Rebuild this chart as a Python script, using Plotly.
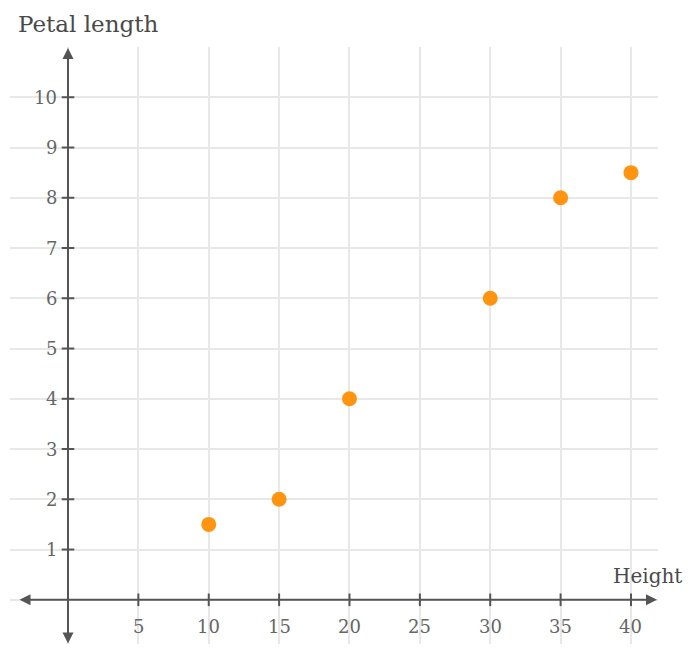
import plotly.graph_objects as go

heights = [10, 15, 20, 30, 35, 40]
petal_lengths = [1.5, 2, 4, 6, 8, 8.5]
x_ticks = [5, 10, 15, 20, 25, 30, 35, 40]
y_ticks = [1, 2, 3, 4, 5, 6, 7, 8, 9, 10]
x_title = "Height"
y_title = "Petal length"

FONT = "DejaVu Serif"
AXIS_COLOR = "#555555"
TICK_COLOR = "#666666"
TITLE_COLOR = "#4a4a4a"

fig = go.Figure()

# tick marks on the axes
fig.add_trace(go.Scatter(x=x_ticks, y=[0] * len(x_ticks), mode="markers",
                         marker=dict(symbol="line-ns", size=9, line=dict(color=AXIS_COLOR, width=2)),
                         hoverinfo="skip", showlegend=False))
fig.add_trace(go.Scatter(x=[0] * len(y_ticks), y=y_ticks, mode="markers",
                         marker=dict(symbol="line-ew", size=9, line=dict(color=AXIS_COLOR, width=2)),
                         hoverinfo="skip", showlegend=False))

# data points
fig.add_trace(go.Scatter(x=heights, y=petal_lengths, mode="markers",
                         marker=dict(color="#ff9410", size=15, line=dict(width=0)),
                         showlegend=False))

annotations = []
# axis lines with arrows at both ends
annotations.append(dict(x=41.85, y=0, ax=-3.55, ay=0, xref="x", yref="y", axref="x", ayref="y",
                        showarrow=True, arrowside="end+start", arrowhead=2, arrowsize=1.1,
                        arrowwidth=2, arrowcolor=AXIS_COLOR, text=""))
annotations.append(dict(x=0, y=10.98, ax=0, ay=-0.9, xref="x", yref="y", axref="x", ayref="y",
                        showarrow=True, arrowside="end+start", arrowhead=2, arrowsize=1.1,
                        arrowwidth=2, arrowcolor=AXIS_COLOR, text=""))
# tick labels
for v in x_ticks:
    annotations.append(dict(x=v, y=0, xref="x", yref="y", text=str(v), showarrow=False,
                            yanchor="top", yshift=-14, font=dict(family=FONT, size=18, color=TICK_COLOR)))
for v in y_ticks:
    annotations.append(dict(x=0, y=v, xref="x", yref="y", text=str(v), showarrow=False,
                            xanchor="right", xshift=-9, font=dict(family=FONT, size=18, color=TICK_COLOR)))
# axis titles
annotations.append(dict(x=0, y=1, xref="paper", yref="paper", text=y_title, showarrow=False,
                        xanchor="left", yanchor="bottom", xshift=6, yshift=8,
                        font=dict(family=FONT, size=23, color=TITLE_COLOR)))
annotations.append(dict(x=1, y=0, xref="paper", yref="y", text=x_title, showarrow=False,
                        xanchor="right", yanchor="bottom", xshift=26, yshift=10,
                        font=dict(family=FONT, size=20, color=TITLE_COLOR)))

fig.update_layout(
    width=686, height=636,
    margin=dict(l=2, r=36, t=39, b=0),
    plot_bgcolor="white", paper_bgcolor="white",
    annotations=annotations,
    xaxis=dict(range=[-4.12, 41.92], dtick=5, tick0=0, showgrid=True, gridcolor="#e8e8e8",
               gridwidth=2, zeroline=False, showticklabels=False, ticks="", showline=False,
               fixedrange=True),
    yaxis=dict(range=[-0.88, 11.0], dtick=1, tick0=0, showgrid=True, gridcolor="#e8e8e8",
               gridwidth=2, zeroline=False, showticklabels=False, ticks="", showline=False,
               fixedrange=True),
)

fig.write_html("out.html")
